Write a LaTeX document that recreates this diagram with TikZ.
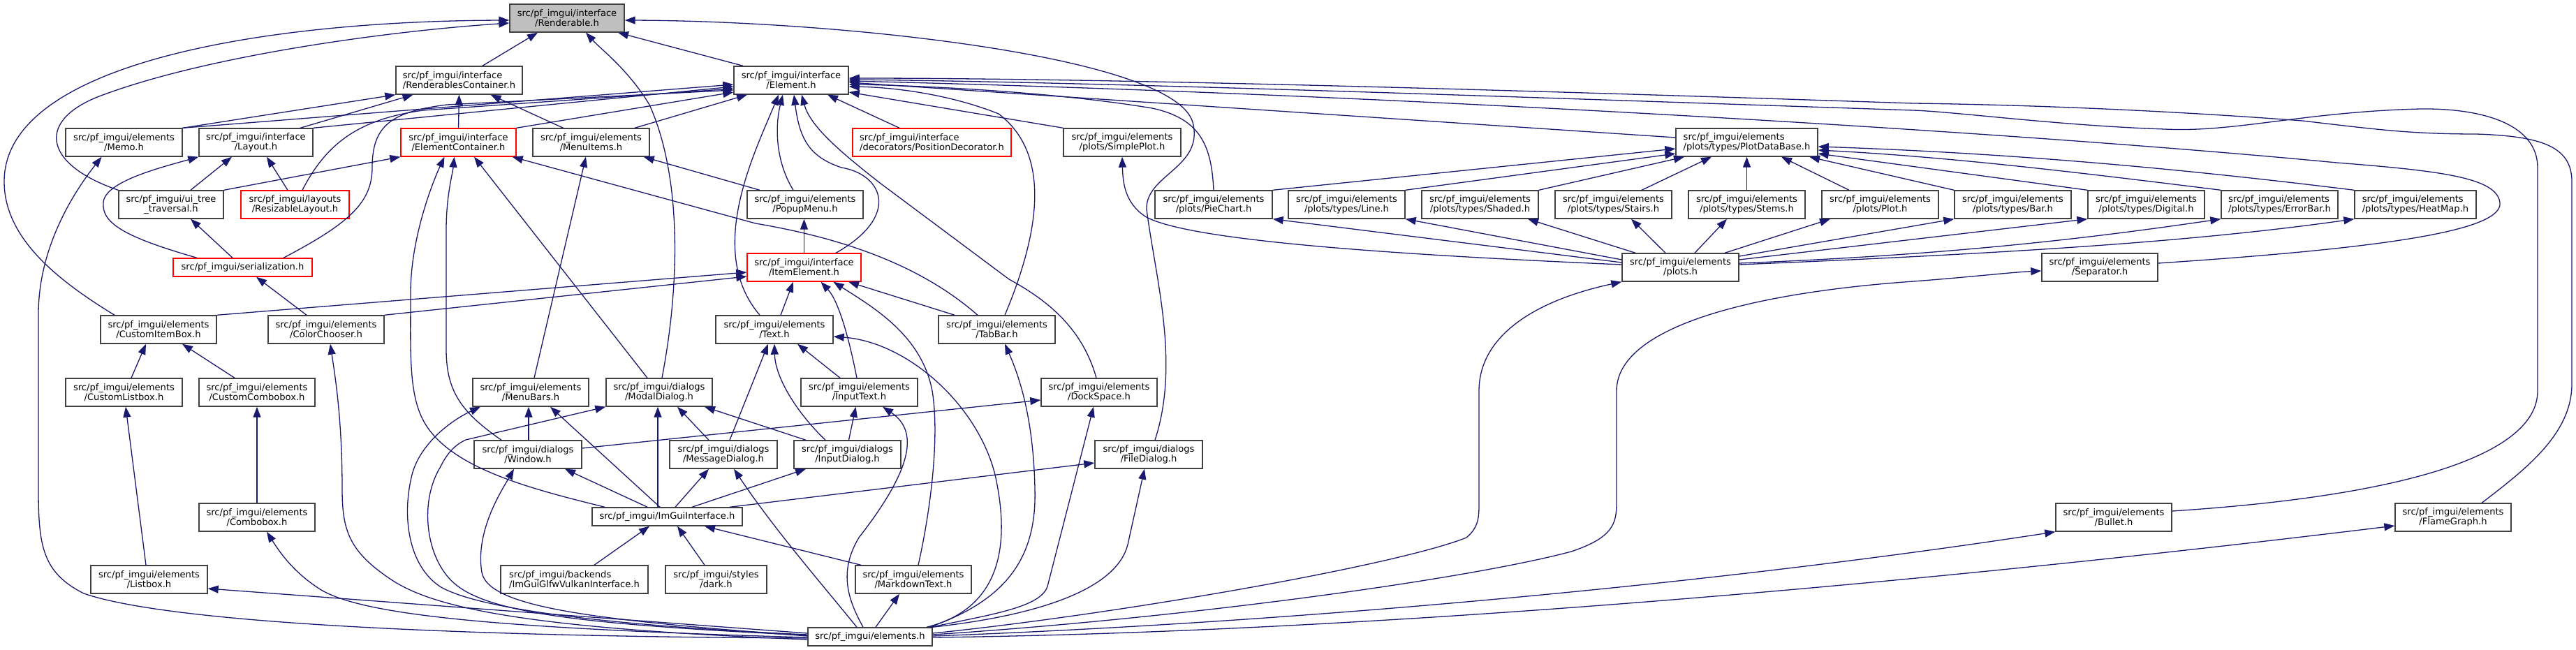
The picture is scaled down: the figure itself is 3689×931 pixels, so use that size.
\documentclass[tikz,border=0pt]{standalone}
\usepackage{fontspec}
\setmainfont{DejaVu Sans}
\usetikzlibrary{arrows.meta}
\definecolor{edgec}{HTML}{191970}
\definecolor{boxc}{HTML}{404040}
\definecolor{rootc}{HTML}{BFBFBF}
\newcommand\nodefnt{\fontsize{13.1pt}{14pt}\selectfont}
\tikzset{
  nd/.style={draw=boxc, line width=1.4pt, fill=white, inner sep=0pt, minimum height=40pt, font=\nodefnt, align=center},
  one/.style={minimum height=26pt},
  redb/.style={draw=red},
  e/.style={draw=edgec, line width=1.3pt, -{Triangle[length=15pt,width=11pt]}},
}
\begin{document}
\begin{tikzpicture}[x=1pt,y=-1pt]
\fill[white] (0,0) rectangle (3689,931);
\useasboundingbox (0,0) rectangle (3689,931);
% row 0
\node[nd, fill=rootc, minimum width=164pt] (R) at (812,26) {src/pf\_imgui/interface\\/Renderable.h};
% row 1
\node[nd, align=left, minimum width=181pt] (RC) at (657.5,115) {src/pf\_imgui/interface\\/RenderablesContainer.h};
\node[nd, minimum width=164pt] (E) at (1133,115) {src/pf\_imgui/interface\\/Element.h};
% row 2
\node[nd, minimum width=167pt] (Memo) at (177.5,204) {src/pf\_imgui/elements\\/Memo.h};
\node[nd, minimum width=163pt] (Lay) at (366.5,204) {src/pf\_imgui/interface\\/Layout.h};
\node[nd, redb, minimum width=165pt] (EC) at (656.5,204) {src/pf\_imgui/interface\\/ElementContainer.h};
\node[nd, minimum width=167pt] (MI) at (846.5,204) {src/pf\_imgui/elements\\/MenuItems.h};
\node[nd, redb, align=left, minimum width=227pt] (PD) at (1334.5,204) {src/pf\_imgui/interface\\/decorators/PositionDecorator.h};
\node[nd, minimum width=168pt] (SP) at (1607,204) {src/pf\_imgui/elements\\/plots/SimplePlot.h};
\node[nd, align=left, minimum width=203pt] (PDB) at (2501.5,204) {src/pf\_imgui/elements\\/plots/types/PlotDataBase.h};
% row 3
\node[nd, minimum width=150pt] (UT) at (245,293) {src/pf\_imgui/ui\_tree\\\_traversal.h};
\node[nd, redb, minimum width=155pt] (RL) at (422.5,293) {src/pf\_imgui/layouts\\/ResizableLayout.h};
\node[nd, minimum width=166pt] (PM) at (1153,293) {src/pf\_imgui/elements\\/PopupMenu.h};
\node[nd, minimum width=168pt] (PC) at (1738,293) {src/pf\_imgui/elements\\/plots/PieChart.h};
\node[nd, minimum width=167pt] (Line) at (1928.5,293) {src/pf\_imgui/elements\\/plots/types/Line.h};
\node[nd, minimum width=167pt] (Shaded) at (2119.5,293) {src/pf\_imgui/elements\\/plots/types/Shaded.h};
\node[nd, minimum width=167pt] (Stairs) at (2310.5,293) {src/pf\_imgui/elements\\/plots/types/Stairs.h};
\node[nd, minimum width=167pt] (Stems) at (2501.5,293) {src/pf\_imgui/elements\\/plots/types/Stems.h};
\node[nd, minimum width=167pt] (Plot) at (2692.5,293) {src/pf\_imgui/elements\\/plots/Plot.h};
\node[nd, minimum width=167pt] (Bar) at (2882.5,293) {src/pf\_imgui/elements\\/plots/types/Bar.h};
\node[nd, minimum width=167pt] (Dig) at (3073.5,293) {src/pf\_imgui/elements\\/plots/types/Digital.h};
\node[nd, align=left, minimum width=167pt] (EB) at (3264.5,293) {src/pf\_imgui/elements\\/plots/types/ErrorBar.h};
\node[nd, align=left, minimum width=174pt] (HM) at (3459,293) {src/pf\_imgui/elements\\/plots/types/HeatMap.h};
% row 4
\node[nd, one, redb, minimum width=199pt] (Ser) at (347.5,383) {src/pf\_imgui/serialization.h};
\node[nd, redb, minimum width=163pt] (IE) at (1151.5,383) {src/pf\_imgui/interface\\/ItemElement.h};
\node[nd, minimum width=167pt] (PL) at (2406.5,383) {src/pf\_imgui/elements\\/plots.h};
\node[nd, minimum width=166pt] (Sep) at (3007,383) {src/pf\_imgui/elements\\/Separator.h};
% row 5
\node[nd, minimum width=166pt] (CIB) at (227,472) {src/pf\_imgui/elements\\/CustomItemBox.h};
\node[nd, minimum width=166pt] (CC) at (467,472) {src/pf\_imgui/elements\\/ColorChooser.h};
\node[nd, minimum width=168pt] (Text) at (1109,472) {src/pf\_imgui/elements\\/Text.h};
\node[nd, minimum width=167pt] (TB) at (1427.5,472) {src/pf\_imgui/elements\\/TabBar.h};
% row 6
\node[nd, minimum width=167pt] (CL) at (177.5,562) {src/pf\_imgui/elements\\/CustomListbox.h};
\node[nd, minimum width=166pt] (CCb) at (368,562) {src/pf\_imgui/elements\\/CustomCombobox.h};
\node[nd, minimum width=166pt] (MB) at (760,562) {src/pf\_imgui/elements\\/MenuBars.h};
\node[nd, minimum width=152pt] (MD) at (944,562) {src/pf\_imgui/dialogs\\/ModalDialog.h};
\node[nd, minimum width=167pt] (IT) at (1230.5,562) {src/pf\_imgui/elements\\/InputText.h};
\node[nd, minimum width=166pt] (DS) at (1574,562) {src/pf\_imgui/elements\\/DockSpace.h};
% row 7
\node[nd, minimum width=154pt] (Win) at (756,651) {src/pf\_imgui/dialogs\\/Window.h};
\node[nd, minimum width=154pt] (MsgD) at (1036,651) {src/pf\_imgui/dialogs\\/MessageDialog.h};
\node[nd, minimum width=153pt] (ID) at (1213.5,651) {src/pf\_imgui/dialogs\\/InputDialog.h};
\node[nd, minimum width=154pt] (FD) at (1645,651) {src/pf\_imgui/dialogs\\/FileDialog.h};
% row 8
\node[nd, one, minimum width=215pt] (IG) at (955.5,740) {src/pf\_imgui/ImGuiInterface.h};
\node[nd, minimum width=166pt] (Cb) at (368,741) {src/pf\_imgui/elements\\/Combobox.h};
\node[nd, minimum width=166pt] (Bul) at (3027,741) {src/pf\_imgui/elements\\/Bullet.h};
\node[nd, minimum width=166pt] (FG) at (3513,741) {src/pf\_imgui/elements\\/FlameGraph.h};
% row 9
\node[nd, minimum width=167pt] (LB) at (213.5,830) {src/pf\_imgui/elements\\/Listbox.h};
\node[nd, align=left, minimum width=211pt] (VK) at (822.5,830) {src/pf\_imgui/backends\\/ImGuiGlfwVulkanInterface.h};
\node[nd, minimum width=145pt] (Dark) at (1025.5,830) {src/pf\_imgui/styles\\/dark.h};
\node[nd, minimum width=166pt] (MT) at (1308,830) {src/pf\_imgui/elements\\/MarkdownText.h};
% row 10
\node[nd, one, minimum width=178pt] (EL) at (1246,912) {src/pf\_imgui/elements.h};

% ---- edges to Renderable
\draw[e] ([xshift=-63pt]CIB.north) .. controls (80,400) and (6,340) .. (6,260) .. controls (6,90) and (380,30) .. ([yshift=-3pt]R.west);
\draw[e] (UT.north west) .. controls (60,235) and (50,170) .. (150,135) .. controls (300,80) and (550,45) .. ([yshift=-7pt]R.west);
\draw[e] ([xshift=33.5pt]RC.north) -- ([xshift=-42pt]R.south);
\draw[e] ([xshift=4pt]MD.north) .. controls (975,400) and (975,250) .. (930,150) .. controls (900,100) and (860,70) .. ([xshift=27pt]R.south);
\draw[e] ([xshift=-69pt]E.north) -- ([xshift=73pt]R.south);
\draw[e] ([xshift=9pt]FD.north) .. controls (1690,520) and (1655,400) .. (1642,300) .. controls (1640,250) and (1725,240) .. (1708,175) .. controls (1680,80) and (1200,30) .. ([yshift=-3pt]R.east);
% ---- to RenderablesContainer
\draw[e] (Memo.north east) -- (RC.south west);
\draw[e] ([xshift=63.5pt]Lay.north) -- ([xshift=-66pt]RC.south);
\draw[e] (EC.north) -- (RC.south);
\draw[e] ([xshift=-40pt]MI.north) -- ([xshift=45pt]RC.south);
% ---- to Element
\draw[e] (Memo.north east) -- ([yshift=-6pt]E.west);
\draw[e] (Lay.north east) -- ([yshift=-9pt]E.west);
\draw[e] ([xshift=10.5pt]RL.north) .. controls (470,200) and (520,170) .. (606,158) -- ([yshift=-12pt]E.west);
\draw[e] ([xshift=58.5pt]Ser.north) .. controls (500,320) and (533,290) .. (533,240) .. controls (533,180) and (560,160) .. (640,150) -- ([yshift=-14pt]E.west);
\draw[e] (EC.north east) -- ([yshift=-17pt]E.west);
\draw[e] ([xshift=62.5pt]MI.north) -- ([xshift=-63pt]E.south);
\draw[e] ([xshift=-21pt]Text.north) .. controls (1010,360) and (1080,220) .. ([xshift=-18pt]E.south);
\draw[e] ([xshift=-17pt]PM.north) .. controls (1110,230) and (1110,180) .. ([xshift=-12pt]E.south);
\draw[e] ([xshift=45.5pt]IE.north) .. controls (1290,310) and (1265,250) .. (1205,240) .. controls (1160,225) and (1145,200) .. ([xshift=4pt]E.south);
\draw[e] ([xshift=-4pt]DS.north) .. controls (1550,470) and (1500,430) .. (1445,400) -- (1260,262) .. controls (1200,215) and (1160,180) .. ([xshift=15pt]E.south);
\draw[e] ([xshift=-46.5pt]PD.north) -- ([xshift=52pt]E.south);
\draw[e] (SP.north west) -- ([yshift=-17pt]E.east);
\draw[e] ([yshift=7pt]PDB.west) -- ([yshift=-3pt]E.east);
\draw[e] ([xshift=11.5pt]TB.north) .. controls (1490,330) and (1505,220) .. (1430,163) .. controls (1360,135) and (1280,125) .. ([yshift=-9pt]E.east);
\draw[e] (PC.north) .. controls (1735,210) and (1720,170) .. (1650,155) .. controls (1500,130) and (1300,122) .. ([yshift=-6pt]E.east);
\draw[e] ([yshift=6pt]Sep.east) .. controls (3420,355) and (3585,330) .. (3580,290) .. controls (3575,255) and (3500,245) .. (3346,233) .. controls (2900,190) and (2000,135) .. ([yshift=-1pt]E.east);
\draw[e] ([yshift=9pt]Bul.east) .. controls (3450,710) and (3634,650) .. (3634,560) -- (3634,240) .. controls (3634,180) and (3560,155) .. (3467,156) .. controls (3300,160) and (3200,190) .. (3100,185) .. controls (2950,180) and (2800,160) .. (2740,158) .. controls (2200,140) and (1600,118) .. ([yshift=1pt]E.east);
\draw[e] ([xshift=41pt]FG.north) .. controls (3620,670) and (3683,620) .. (3683,550) -- (3683,260) .. controls (3683,210) and (3640,195) .. (3546,192) .. controls (3450,192) and (3400,185) .. (3297,173) .. controls (3100,158) and (2900,150) .. (2740,148) .. controls (2200,130) and (1600,112) .. ([yshift=3pt]E.east);
% ---- to ElementContainer
\draw[e] (UT.north east) -- (EC.south west);
\draw[e] ([xshift=-89.5pt]IG.north) .. controls (760,700) and (640,670) .. (605,600) .. controls (585,560) and (588,500) .. (588,420) .. controls (588,340) and (620,260) .. ([xshift=-20pt]EC.south);
\draw[e] ([xshift=-38pt]Win.north) .. controls (660,590) and (639,560) .. (639,500) -- (639,330) .. controls (639,280) and (648,250) .. ([xshift=-6pt]EC.south);
\draw[e] ([xshift=-17pt]MD.north) -- ([xshift=22.5pt]EC.south);
\draw[e] ([xshift=-27.5pt]TB.north) .. controls (1330,390) and (1230,345) .. (1082,320) -- ([xshift=-6pt]EC.south east);
% ---- to Layout
\draw[e] ([xshift=28pt]UT.north) -- ([xshift=-34.5pt]Lay.south);
\draw[e] ([xshift=-10.5pt]RL.north) -- ([xshift=15.5pt]Lay.south);
\draw[e] ([xshift=-65.5pt]Ser.north) .. controls (180,340) and (145,320) .. (148,290) .. controls (150,260) and (230,240) .. (Lay.south west);
% ---- Memo
\draw[e] ([yshift=-2pt]EL.west) .. controls (700,912) and (250,895) .. (120,850) .. controls (60,820) and (55,780) .. (55,700) -- (55,450) .. controls (55,350) and (110,270) .. ([xshift=-32pt]Memo.south);
% ---- MenuItems
\draw[e] ([xshift=5pt]MB.north) -- ([xshift=-7.5pt]MI.south);
\draw[e] ([xshift=-65pt]PM.north) -- ([xshift=-9pt]MI.south east);
% ---- ui_tree, serialization
\draw[e] ([xshift=-14.5pt]Ser.north) -- ([xshift=28pt]UT.south);
\draw[e] ([xshift=-28pt]CC.north) -- ([xshift=19.5pt]Ser.south);
% ---- ItemElement
\draw[e] (CIB.north east) -- ([yshift=-7pt]IE.west);
\draw[e] (CC.north east) -- ([yshift=-13pt]IE.west);
\draw[e] (IE.north) -- ([xshift=-1.5pt]PM.south);
\draw[e] ([xshift=9pt]Text.north) -- ([xshift=-15.5pt]IE.south);
\draw[e] ([xshift=-3.5pt]IT.north) .. controls (1215,480) and (1200,430) .. ([xshift=24pt]IE.south);
\draw[e] ([xshift=7pt]MT.north) .. controls (1335,720) and (1345,620) .. (1335,560) .. controls (1320,480) and (1250,440) .. ([xshift=42pt]IE.south);
\draw[e] ([xshift=-60.5pt]TB.north) -- ([xshift=63.5pt]IE.south);
% ---- CustomItemBox
\draw[e] ([xshift=10.5pt]CL.north) -- ([xshift=-18pt]CIB.south);
\draw[e] ([xshift=-32pt]CCb.north) -- ([xshift=34pt]CIB.south);
% ---- ColorChooser
\draw[e] ([yshift=-4pt]EL.west) .. controls (750,900) and (620,870) .. (560,830) .. controls (500,790) and (490,760) .. (490,700) .. controls (490,600) and (480,540) .. ([xshift=6pt]CC.south);
% ---- lists, combos
\draw[e] ([xshift=-4.5pt]LB.north) -- ([xshift=2.5pt]CL.south);
\draw[e] (Cb.north) -- (CCb.south);
\draw[e] ([yshift=-1pt]EL.west) .. controls (700,900) and (520,880) .. (460,845) .. controls (420,820) and (400,790) .. ([xshift=14pt]Cb.south);
\draw[e] ([yshift=5pt]EL.west) -- ([yshift=-13pt]LB.east);
% ---- MenuBars
\draw[e] ([yshift=3pt]EL.west) .. controls (850,895) and (680,870) .. (630,840) .. controls (585,810) and (575,740) .. (590,680) .. controls (600,640) and (640,605) .. ([xshift=-72pt]MB.south);
\draw[e] ([xshift=1pt]Win.north) -- ([xshift=-3pt]MB.south);
\draw[e] ([xshift=-10.5pt]IG.north) -- ([xshift=28pt]MB.south);
% ---- ModalDialog
\draw[e] ([yshift=2pt]EL.west) .. controls (850,895) and (700,880) .. (650,835) .. controls (610,800) and (600,720) .. (630,670) .. controls (640,650) and (650,638) .. (667,630) -- (MD.south west);
\draw[e] ([xshift=-13.5pt]IG.north) -- ([xshift=-2pt]MD.south);
\draw[e] ([xshift=-21pt]MsgD.north) -- ([xshift=26pt]MD.south);
\draw[e] ([xshift=-59.5pt]ID.north) -- ([xshift=65pt]MD.south);
% ---- Window
\draw[e] ([yshift=1pt]EL.west) .. controls (850,888) and (700,870) .. (690,820) .. controls (680,760) and (720,700) .. ([xshift=-20pt]Win.south);
\draw[e] ([xshift=-28.5pt]IG.north) -- ([xshift=53pt]Win.south);
\draw[e] ([yshift=9pt]Win.east) -- ([yshift=-11pt]DS.west);
% ---- MessageDialog, InputDialog, InputText, Text
\draw[e] ([xshift=11.5pt]IG.north) -- ([xshift=-21pt]MsgD.south);
\draw[e] ([xshift=-19pt]EL.north) .. controls (1180,840) and (1110,760) .. ([xshift=15pt]MsgD.south);
\draw[e] ([xshift=9pt]MsgD.north) -- ([xshift=-9pt]Text.south);
\draw[e] ([xshift=35.5pt]IG.north) -- ([xshift=-59.5pt]ID.south);
\draw[e] ([xshift=-31.5pt]ID.north) .. controls (1140,590) and (1110,540) .. (Text.south);
\draw[e] ([xshift=2pt]ID.north) -- ([xshift=-5pt]IT.south);
\draw[e] ([xshift=-10pt]EL.north) .. controls (1215,860) and (1200,820) .. (1230,770) .. controls (1300,680) and (1320,620) .. ([xshift=33.5pt]IT.south);
\draw[e] ([xshift=-27.5pt]IT.north) -- ([xshift=33pt]Text.south);
\draw[e] ([xshift=81pt]EL.north) .. controls (1440,870) and (1445,770) .. (1425,680) .. controls (1400,580) and (1300,490) .. ([yshift=-10pt]Text.east);
% ---- TabBar, DockSpace, FileDialog
\draw[e] ([xshift=85pt]EL.north) .. controls (1440,860) and (1485,800) .. (1482,700) .. controls (1480,600) and (1460,540) .. ([xshift=11.5pt]TB.south);
\draw[e] ([xshift=87pt]EL.north) .. controls (1420,880) and (1490,870) .. (1500,840) -- ([xshift=-8pt]DS.south);
\draw[e] ([xshift=89pt]EL.north) .. controls (1500,880) and (1600,840) .. (1615,780) -- ([xshift=-6pt]FD.south);
\draw[e] ([xshift=89.5pt]IG.north) -- ([yshift=-12pt]FD.west);
% ---- ImGuiInterface
\draw[e] ([xshift=28.5pt]VK.north) -- ([xshift=-25.5pt]IG.south);
\draw[e] ([xshift=-16.5pt]Dark.north) -- ([xshift=14.5pt]IG.south);
\draw[e] ([xshift=-75pt]MT.north) -- ([xshift=53.5pt]IG.south);
\draw[e] ([xshift=8pt]EL.north) -- ([xshift=-20pt]MT.south);
% ---- right side from elements.h
\draw[e] ([yshift=5pt]EL.east) .. controls (1600,880) and (2000,810) .. (2100,770) .. controls (2118,755) and (2118,740) .. (2118,720) -- (2118,560) .. controls (2118,480) and (2200,430) .. (PL.south west);
\draw[e] ([yshift=3pt]EL.east) .. controls (1700,885) and (2100,830) .. (2250,790) .. controls (2310,770) and (2315,750) .. (2315,720) -- (2315,560) .. controls (2315,470) and (2500,420) .. (2740,403) .. controls (2820,397) and (2880,390) .. ([yshift=-5pt]Sep.west);
\draw[e] ([yshift=1pt]EL.east) .. controls (1900,890) and (2500,830) .. (Bul.south west);
\draw[e] ([yshift=-1pt]EL.east) .. controls (2000,905) and (2800,830) .. ([yshift=-12pt]FG.west);
% ---- plots.h to types
\draw[e] ([yshift=11pt]PL.west) -- (Line.south east);
\draw[e] ([yshift=7pt]PL.west) -- (PC.south east);
\draw[e] ([yshift=4pt]PL.west) .. controls (2000,365) and (1700,345) .. (1640,310) .. controls (1610,290) and (1608,260) .. (SP.south);
\draw[e] ([xshift=-64.5pt]PL.north) -- ([xshift=68.5pt]Shaded.south);
\draw[e] ([xshift=-21.5pt]PL.north) -- ([xshift=25.5pt]Stairs.south);
\draw[e] ([xshift=20.5pt]PL.north) -- ([xshift=-28.5pt]Stems.south);
\draw[e] ([xshift=63.5pt]PL.north) -- ([xshift=-71.5pt]Plot.south);
\draw[e] ([yshift=16pt]PL.east) -- (Bar.south west);
\draw[e] ([yshift=11pt]PL.east) -- (Dig.south west);
\draw[e] ([yshift=6pt]PL.east) .. controls (2800,365) and (3000,340) .. (EB.south west);
\draw[e] ([yshift=4pt]PL.east) .. controls (2900,362) and (3150,345) .. (HM.south west);
% ---- types to PlotDataBase
\draw[e] (PC.north east) -- ([yshift=-9pt]PDB.west);
\draw[e] (Line.north east) -- ([yshift=-16pt]PDB.west);
\draw[e] (Shaded.north east) -- ([xshift=-89.5pt]PDB.south);
\draw[e] ([xshift=40.5pt]Stairs.north) -- ([xshift=-50.5pt]PDB.south);
\draw[e] (Stems.north) -- (PDB.south);
\draw[e] ([xshift=-44.5pt]Plot.north) -- ([xshift=49.5pt]PDB.south);
\draw[e] (Bar.north west) -- ([xshift=89.5pt]PDB.south);
\draw[e] (Dig.north west) -- ([yshift=-16pt]PDB.east);
\draw[e] (EB.north west) .. controls (3000,250) and (2800,225) .. ([yshift=-11pt]PDB.east);
\draw[e] (HM.north west) .. controls (3150,245) and (2900,220) .. ([yshift=-6pt]PDB.east);
\end{tikzpicture}
\end{document}
